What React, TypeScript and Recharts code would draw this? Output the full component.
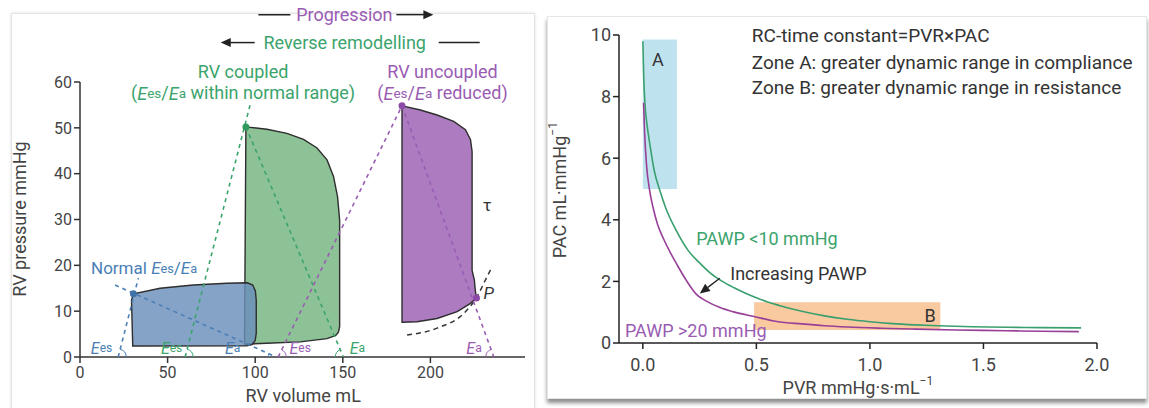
import React from "react";
import {
  ComposedChart,
  Line,
  ReferenceArea,
  ReferenceDot,
  Scatter,
  XAxis,
  YAxis,
} from "recharts";

const FONT = "Roboto, 'Open Sans', sans-serif";

// ---------- left panel: RV pressure-volume loops ----------
const volumeTicks = [0, 50, 100, 150, 200];
const pressureTicks = [0, 10, 20, 30, 40, 50, 60];

// loop outlines (RV volume mL, RV pressure mmHg)
const normalLoop = [
  { v: 30.1, p: 2.4 }, { v: 29.4, p: 12.4 }, { v: 30.5, p: 13.8 }, { v: 45.7, p: 15.0 },
  { v: 64.7, p: 15.7 }, { v: 83.8, p: 16.1 }, { v: 95.5, p: 16.2 }, { v: 98.6, p: 15.7 },
  { v: 100.1, p: 14.4 }, { v: 100.6, p: 12.4 }, { v: 100.6, p: 5.2 }, { v: 100.0, p: 3.6 },
  { v: 98.2, p: 2.7 }, { v: 95.0, p: 2.45 },
];
const coupledLoop = [
  { v: 93.9, p: 2.8 }, { v: 94.7, p: 50.2 }, { v: 106.7, p: 49.7 }, { v: 118.1, p: 48.8 },
  { v: 127.6, p: 47.5 }, { v: 135.3, p: 45.6 }, { v: 141.0, p: 43.0 }, { v: 144.7, p: 39.4 },
  { v: 147.0, p: 35.0 }, { v: 148.2, p: 29.9 }, { v: 148.2, p: 6.6 }, { v: 147.5, p: 5.4 },
  { v: 146.0, p: 4.7 }, { v: 141.0, p: 4.0 }, { v: 125.7, p: 3.3 }, { v: 106.7, p: 3.0 },
];
const uncoupledLoop = [
  { v: 183.8, p: 7.6 }, { v: 183.8, p: 54.8 }, { v: 194.3, p: 53.9 }, { v: 203.8, p: 52.8 },
  { v: 213.3, p: 51.4 }, { v: 220.0, p: 49.6 }, { v: 222.9, p: 47.4 }, { v: 223.8, p: 44.8 },
  { v: 223.8, p: 18.9 }, { v: 225.1, p: 16.8 }, { v: 225.7, p: 14.3 }, { v: 226.3, p: 12.9 },
  { v: 222.9, p: 11.7 }, { v: 215.3, p: 9.9 }, { v: 203.8, p: 8.4 }, { v: 192.4, p: 7.7 },
];
const edpvr = [
  { v: 186.7, p: 4.8 }, { v: 203.8, p: 6.3 }, { v: 219.0, p: 9.5 },
  { v: 226.7, p: 13.2 }, { v: 231.4, p: 16.8 }, { v: 234.3, p: 19.0 },
];

// elastance lines (Ees and Ea)
const normalEes = [{ v: 21.8, p: 0 }, { v: 33.3, p: 17.2 }];
const normalEa = [{ v: 20.0, p: 15.7 }, { v: 112.0, p: 0 }];
const coupledEes = [{ v: 60.0, p: 0 }, { v: 97.1, p: 55.0 }];
const coupledEa = [{ v: 94.7, p: 50.2 }, { v: 150.3, p: 0 }];
const uncoupledEes = [{ v: 113.1, p: 0 }, { v: 183.8, p: 54.8 }];
const uncoupledEa = [{ v: 183.8, p: 54.8 }, { v: 236.2, p: 0 }];

// end-systolic / end-diastolic points
const normalPoints = [{ v: 30.5, p: 13.8 }];
const coupledPoints = [{ v: 94.7, p: 50.2 }];
const uncoupledPoints = [{ v: 183.8, p: 54.8 }, { v: 226.3, p: 12.9 }];

// ---------- right panel: RC-time ----------
const pvrTicks = [0, 0.5, 1, 1.5, 2];
const pacTicks = [0, 2, 4, 6, 8, 10];

const pawpLow = [
  { pvr: 0, pac: 9.8 }, { pvr: 0.004, pac: 8.6 }, { pvr: 0.009, pac: 7.8 }, { pvr: 0.02, pac: 7.0 },
  { pvr: 0.031, pac: 6.45 }, { pvr: 0.05, pac: 5.6 }, { pvr: 0.075, pac: 4.95 }, { pvr: 0.1, pac: 4.4 },
  { pvr: 0.148, pac: 3.64 }, { pvr: 0.2, pac: 3.0 }, { pvr: 0.25, pac: 2.6 }, { pvr: 0.3, pac: 2.25 },
  { pvr: 0.35, pac: 2.0 }, { pvr: 0.4, pac: 1.8 }, { pvr: 0.45, pac: 1.62 }, { pvr: 0.5, pac: 1.47 },
  { pvr: 0.55, pac: 1.33 }, { pvr: 0.6, pac: 1.22 }, { pvr: 0.7, pac: 1.03 }, { pvr: 0.8, pac: 0.88 },
  { pvr: 0.9, pac: 0.77 }, { pvr: 1.0, pac: 0.69 }, { pvr: 1.1, pac: 0.63 }, { pvr: 1.2, pac: 0.59 },
  { pvr: 1.3, pac: 0.56 }, { pvr: 1.45, pac: 0.53 }, { pvr: 1.6, pac: 0.51 }, { pvr: 1.75, pac: 0.5 },
  { pvr: 1.93, pac: 0.49 },
];
const pawpHigh = [
  { pvr: 0.003, pac: 7.8 }, { pvr: 0.008, pac: 6.8 }, { pvr: 0.016, pac: 5.8 }, { pvr: 0.03, pac: 4.95 },
  { pvr: 0.045, pac: 4.4 }, { pvr: 0.065, pac: 3.85 }, { pvr: 0.09, pac: 3.4 }, { pvr: 0.12, pac: 2.95 },
  { pvr: 0.15, pac: 2.55 }, { pvr: 0.19, pac: 2.05 }, { pvr: 0.236, pac: 1.58 }, { pvr: 0.28, pac: 1.36 },
  { pvr: 0.34, pac: 1.15 }, { pvr: 0.4, pac: 1.01 }, { pvr: 0.49, pac: 0.86 }, { pvr: 0.59, pac: 0.7 },
  { pvr: 0.7, pac: 0.62 }, { pvr: 0.8, pac: 0.56 }, { pvr: 0.9, pac: 0.52 }, { pvr: 1.05, pac: 0.48 },
  { pvr: 1.2, pac: 0.45 }, { pvr: 1.38, pac: 0.42 }, { pvr: 1.6, pac: 0.4 }, { pvr: 1.75, pac: 0.38 },
  { pvr: 1.92, pac: 0.37 },
];
const increasingArrow = [{ pvr: 0.339, pac: 2.1 }, { pvr: 0.251, pac: 1.61 }];

const zoneAPvr = [0, 0.15];
const zoneAPac = [5.0, 9.85];
const zoneBPvr = [0.49, 1.31];
const zoneBPac = [0.42, 1.32];

// colours
const OUTLINE = "#2e2e2e";
const BLUE_FILL = "#6a8fbb";
const GREEN_FILL = "#8dc196";
const PURPLE_FILL = "#ad7cc0";
const BLUE = "#4a7fb6";
const GREEN = "#3ba46c";
const PURPLE = "#9a5cb3";
const AXIS = "#333";
const TICK = "#444";

const hidden = () => <g />;

const dot = (color: string) => (p: any) => <circle cx={p.cx} cy={p.cy} r={3.5} fill={color} />;

// dashed elastance line with the small angle arc at the volume axis
const elastance = (color: string) => (props: any) => {
  const [a, b] = props.points;
  const low = a.y > b.y ? a : b;
  const high = low === a ? b : a;
  const dx = high.x - low.x;
  const dy = high.y - low.y;
  const len = Math.hypot(dx, dy);
  const r = 8;
  const sx = dx > 0 ? 1 : -1;
  const ex = low.x + (dx / len) * r;
  const ey = low.y + (dy / len) * r;
  const sweep = sx * dy > 0 ? 1 : 0;
  return (
    <g>
      <path d={`M${a.x},${a.y}L${b.x},${b.y}`} stroke={color} strokeWidth={1.6} strokeDasharray="4 4" fill="none" />
      <path d={`M${low.x + sx * r},${low.y}A${r},${r} 0 0 ${sweep} ${ex},${ey}`} stroke={color} strokeWidth={1} fill="none" />
    </g>
  );
};

const arrowLine = (props: any) => {
  const [a, b] = props.points;
  const dx = b.x - a.x;
  const dy = b.y - a.y;
  const len = Math.hypot(dx, dy);
  const ux = dx / len;
  const uy = dy / len;
  const bx = b.x - ux * 10;
  const by = b.y - uy * 10;
  return (
    <g>
      <line x1={a.x} y1={a.y} x2={bx} y2={by} stroke="#222" strokeWidth={1.3} />
      <polygon
        points={`${b.x},${b.y} ${bx - uy * 4.5},${by + ux * 4.5} ${bx + uy * 4.5},${by - ux * 4.5}`}
        fill="#222"
      />
    </g>
  );
};

const note = (
  key: string,
  x: number,
  y: number,
  content: React.ReactNode,
  opts: { color?: string; size?: number; anchor?: string; rotate?: boolean; italic?: boolean } = {}
) => (
  <ReferenceDot
    key={key}
    x={x}
    y={y}
    r={0}
    ifOverflow="visible"
    shape={(p: any) => (
      <text
        x={p.cx}
        y={p.cy}
        fill={opts.color || "#333"}
        fontSize={opts.size || 18}
        fontFamily={FONT}
        fontStyle={opts.italic ? "italic" : "normal"}
        textAnchor={opts.anchor || "middle"}
        dominantBaseline="central"
        transform={opts.rotate ? `rotate(-90 ${p.cx} ${p.cy})` : undefined}
      >
        {content}
      </text>
    )}
  />
);

const E = (sub: string) => (
  <>
    <tspan fontStyle="italic">E</tspan>
    <tspan fontSize="0.75em">{sub}</tspan>
  </>
);
const ratio = (
  <>
    {E("es")}/{E("a")}
  </>
);

const LeftPanel = () => (
  <ComposedChart
    width={540}
    height={408}
    margin={{ top: 82, right: 15, bottom: 21, left: 30 }}
    style={{ position: "absolute", left: 0, top: 0 }}
  >
    <XAxis
      type="number"
      dataKey="v"
      domain={[0, 254]}
      ticks={volumeTicks}
      allowDataOverflow
      height={30}
      tickMargin={4}
      axisLine={{ stroke: AXIS, strokeWidth: 1.5 }}
      tickLine={{ stroke: AXIS, strokeWidth: 1.5 }}
      tick={{ fontSize: 16, fill: TICK, fontFamily: FONT }}
    />
    <YAxis
      type="number"
      dataKey="p"
      domain={[0, 60]}
      ticks={pressureTicks}
      allowDataOverflow
      width={50}
      axisLine={{ stroke: AXIS, strokeWidth: 1.5 }}
      tickLine={{ stroke: AXIS, strokeWidth: 1.5 }}
      tick={{ fontSize: 16, fill: TICK, fontFamily: FONT }}
    />
    <Scatter data={coupledLoop} shape={hidden} isAnimationActive={false}
      line={{ fill: GREEN_FILL, stroke: OUTLINE, strokeWidth: 1.4 }} lineJointType="linearClosed" />
    <Scatter data={normalLoop} shape={hidden} isAnimationActive={false}
      line={{ fill: BLUE_FILL, fillOpacity: 0.82, stroke: OUTLINE, strokeWidth: 1.4 }} lineJointType="linearClosed" />
    <Scatter data={uncoupledLoop} shape={hidden} isAnimationActive={false}
      line={{ fill: PURPLE_FILL, stroke: OUTLINE, strokeWidth: 1.4 }} lineJointType="linearClosed" />
    <Scatter data={edpvr} shape={hidden} isAnimationActive={false}
      line={{ stroke: "#333", strokeWidth: 1.5, strokeDasharray: "5 4" }} lineJointType="monotone" />
    <Scatter data={normalEes} shape={hidden} isAnimationActive={false} line={elastance(BLUE)} />
    <Scatter data={normalEa} shape={hidden} isAnimationActive={false} line={elastance(BLUE)} />
    <Scatter data={coupledEes} shape={hidden} isAnimationActive={false} line={elastance(GREEN)} />
    <Scatter data={coupledEa} shape={hidden} isAnimationActive={false} line={elastance(GREEN)} />
    <Scatter data={uncoupledEes} shape={hidden} isAnimationActive={false} line={elastance(PURPLE)} />
    <Scatter data={uncoupledEa} shape={hidden} isAnimationActive={false} line={elastance(PURPLE)} />
    <Scatter data={normalPoints} shape={dot("#3f72a8")} isAnimationActive={false} />
    <Scatter data={coupledPoints} shape={dot("#2f9a5e")} isAnimationActive={false} />
    <Scatter data={uncoupledPoints} shape={dot("#8c4aa6")} isAnimationActive={false} />

    <ReferenceDot
      x={150.9}
      y={74.7}
      r={0}
      ifOverflow="visible"
      shape={(p: any) => (
        <g>
          <line x1={p.cx - 86} x2={p.cx - 54} y1={p.cy} y2={p.cy} stroke="#222" strokeWidth={1.5} />
          <text x={p.cx} y={p.cy} fill={PURPLE} fontSize={18} fontFamily={FONT} textAnchor="middle" dominantBaseline="central">
            Progression
          </text>
          <line x1={p.cx + 52} x2={p.cx + 82} y1={p.cy} y2={p.cy} stroke="#222" strokeWidth={1.5} />
          <polygon points={`${p.cx + 89},${p.cy} ${p.cx + 79},${p.cy - 4.5} ${p.cx + 79},${p.cy + 4.5}`} fill="#222" />
        </g>
      )}
    />
    <ReferenceDot
      x={151.1}
      y={68.6}
      r={0}
      ifOverflow="visible"
      shape={(p: any) => (
        <g>
          <polygon points={`${p.cx - 124},${p.cy} ${p.cx - 114},${p.cy - 4.5} ${p.cx - 114},${p.cy + 4.5}`} fill="#222" />
          <line x1={p.cx - 116} x2={p.cx - 90} y1={p.cy} y2={p.cy} stroke="#222" strokeWidth={1.5} />
          <text x={p.cx} y={p.cy} fill={GREEN} fontSize={18} fontFamily={FONT} textAnchor="middle" dominantBaseline="central">
            Reverse remodelling
          </text>
          <line x1={p.cx + 94} x2={p.cx + 135} y1={p.cy} y2={p.cy} stroke="#222" strokeWidth={1.5} />
        </g>
      )}
    />
    {note("c1", 93.1, 62.3, "RV coupled", { color: GREEN })}
    {note("c2", 93.1, 57.7, <>({ratio} within normal range)</>, { color: GREEN })}
    {note("u1", 206.9, 62.3, "RV uncoupled", { color: PURPLE })}
    {note("u2", 206.9, 57.7, <>({ratio} reduced)</>, { color: PURPLE })}
    {note("n1", 6.3, 19.4, <>Normal {ratio}</>, { color: BLUE, anchor: "start", size: 17 })}
    {note("tau", 232.4, 33.2, "τ", { size: 17 })}
    {note("P", 230.3, 14.0, "P", { size: 17, anchor: "start", italic: true })}
    {note("b1", 12.3, 1.9, E("es"), { color: BLUE, size: 16 })}
    {note("b2", 52.3, 1.9, E("es"), { color: GREEN, size: 16 })}
    {note("b3", 87.1, 1.9, E("a"), { color: BLUE, size: 16 })}
    {note("b4", 125.7, 1.9, E("es"), { color: PURPLE, size: 16 })}
    {note("b5", 158.3, 1.9, E("a"), { color: GREEN, size: 16 })}
    {note("b6", 224.9, 1.9, E("a"), { color: PURPLE, size: 16 })}
    {note("xl", 127.4, -8.3, "RV volume mL", { color: "#444" })}
    {note("yl", -34.3, 30.1, "RV pressure mmHg", { color: "#444", rotate: true })}
  </ComposedChart>
);

const RightPanel = () => (
  <ComposedChart
    width={609}
    height={408}
    margin={{ top: 35, right: 52, bottom: 35, left: 39 }}
    style={{ position: "absolute", left: 540, top: 0 }}
  >
    <XAxis
      type="number"
      dataKey="pvr"
      domain={[-0.105, 2.0]}
      ticks={pvrTicks}
      allowDataOverflow
      height={30}
      tickMargin={9}
      tickFormatter={(v: number) => v.toFixed(1)}
      axisLine={{ stroke: "#222", strokeWidth: 1.5 }}
      tickLine={{ stroke: "#222", strokeWidth: 1.5 }}
      tick={{ fontSize: 18, fill: TICK, fontFamily: FONT }}
    />
    <YAxis
      type="number"
      dataKey="pac"
      domain={[0, 10]}
      ticks={pacTicks}
      allowDataOverflow
      width={40}
      axisLine={{ stroke: "#222", strokeWidth: 1.5 }}
      tickLine={{ stroke: "#222", strokeWidth: 1.5 }}
      tick={{ fontSize: 18, fill: TICK, fontFamily: FONT }}
    />
    <ReferenceArea x1={zoneAPvr[0]} x2={zoneAPvr[1]} y1={zoneAPac[0]} y2={zoneAPac[1]}
      fill="#bee3ee" fillOpacity={1} stroke="none" ifOverflow="visible" />
    <ReferenceArea x1={zoneBPvr[0]} x2={zoneBPvr[1]} y1={zoneBPac[0]} y2={zoneBPac[1]}
      fill="#f9c99f" fillOpacity={1} stroke="none" ifOverflow="visible" />
    <Line data={pawpLow} dataKey="pac" type="monotone" stroke="#3a9f6e" strokeWidth={1.6} dot={false} isAnimationActive={false} />
    <Line data={pawpHigh} dataKey="pac" type="monotone" stroke="#983f98" strokeWidth={1.6} dot={false} isAnimationActive={false} />
    <Scatter data={increasingArrow} shape={hidden} isAnimationActive={false} line={arrowLine} />
    {note("rc", 0.48, 9.97, "RC-time constant=PVR×PAC", { anchor: "start", size: 19 })}
    {note("za", 0.48, 9.12, "Zone A: greater dynamic range in compliance", { anchor: "start", size: 19 })}
    {note("zb", 0.48, 8.31, "Zone B: greater dynamic range in resistance", { anchor: "start", size: 19 })}
    {note("A", 0.066, 9.22, "A", { size: 18 })}
    {note("B", 1.265, 0.89, "B", { size: 18 })}
    {note("lo", 0.235, 3.4, "PAWP <10 mmHg", { color: GREEN, anchor: "start", size: 18 })}
    {note("inc", 0.385, 2.25, "Increasing PAWP", { anchor: "start", size: 18 })}
    {note("hi", -0.079, 0.42, "PAWP >20 mmHg", { color: PURPLE, anchor: "start", size: 18 })}
    {note("xr", 0.947, -1.45, <>PVR mmHg·s·mL<tspan dy={-7} fontSize={12}>−1</tspan></>, { color: "#444" })}
    {note("yr", -0.366, 4.96, <>PAC mL·mmHg<tspan dy={-7} fontSize={12}>−1</tspan></>, { color: "#444", rotate: true })}
  </ComposedChart>
);

export default function App() {
  return (
    <div style={{ position: "absolute", left: 0, top: 0, width: 1149, height: 408, background: "#fff", overflow: "hidden" }}>
      <div style={{ position: "absolute", left: 11, top: 13, width: 522, height: 400, border: "1px solid #e3e3e3", boxShadow: "0 0 3px rgba(0,0,0,0.12)", background: "#fff" }} />
      <div style={{ position: "absolute", left: 547, top: 16, width: 598, height: 381, border: "1px solid #e6e6e6", boxShadow: "0 4px 4px rgba(0,0,0,0.45)", background: "#fff" }} />
      <LeftPanel />
      <RightPanel />
    </div>
  );
}
